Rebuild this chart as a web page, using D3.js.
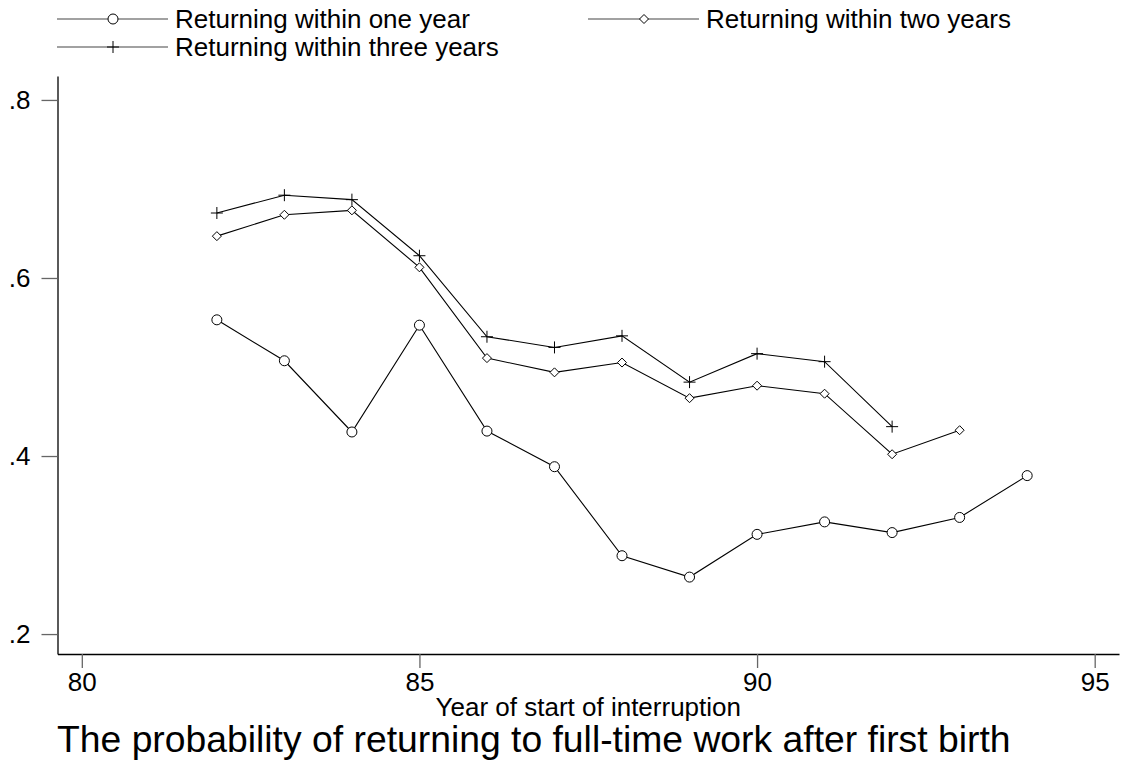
<!DOCTYPE html>
<html>
<head>
<meta charset="utf-8">
<script src="https://cdn.jsdelivr.net/npm/d3@7"></script>
<style>
body{margin:0;background:#fff;}
text{font-family:"Liberation Sans",Arial,sans-serif;fill:#000;}
</style>
</head>
<body>
<svg width="1127" height="764"></svg>
<script>
// data
var years1 = [82,83,84,85,86,87,88,89,90,91,92,93,94];
var oneYear = [0.553,0.507,0.427,0.547,0.428,0.388,0.288,0.264,0.312,0.326,0.314,0.331,0.378];
var years2 = [82,83,84,85,86,87,88,89,90,91,92,93];
var twoYears = [0.647,0.671,0.676,0.612,0.510,0.494,0.505,0.465,0.479,0.470,0.402,0.429];
var years3 = [82,83,84,85,86,87,88,89,90,91,92];
var threeYears = [0.673,0.693,0.688,0.625,0.534,0.522,0.535,0.483,0.515,0.506,0.433];
var seriesNames = ['Returning within one year','Returning within two years','Returning within three years'];
var xTicks = [80,85,90,95];
var yTicks = [0.2,0.4,0.6,0.8];
var xTitle = 'Year of start of interruption';
var chartTitle = 'The probability of returning to full-time work after first birth';

var svg = d3.select('svg');
var plotLeft = 57.5, plotRight = 1119, plotTop = 76, plotBottom = 654;

var xscale = d3.scaleLinear().domain([79.64,95.36]).range([plotLeft,plotRight]);
var yscale = d3.scaleLinear().domain([0.1776,0.8269]).range([plotBottom,plotTop]);

// marker shapes
var circleSym = {draw:function(c,s){ c.moveTo(5,0); c.arc(0,0,5,0,2*Math.PI); }};
var diamondSym = {draw:function(c,s){ c.moveTo(0,-4.5); c.lineTo(4.5,0); c.lineTo(0,4.5); c.lineTo(-4.5,0); c.closePath(); }};
var plusSym = {draw:function(c,s){ c.moveTo(-6,0); c.lineTo(6,0); c.moveTo(0,-6); c.lineTo(0,6); }};

var series = [
	{name:seriesNames[0], data:years1.map((y,i)=>({x:y,v:oneYear[i]})), sym:circleSym},
	{name:seriesNames[1], data:years2.map((y,i)=>({x:y,v:twoYears[i]})), sym:diamondSym},
	{name:seriesNames[2], data:years3.map((y,i)=>({x:y,v:threeYears[i]})), sym:plusSym}
];

// axes
var yaxis = svg.append('g').attr('transform',`translate(${plotLeft},0)`)
	.call(d3.axisLeft(yscale).tickValues(yTicks).tickSize(16).tickSizeOuter(0).tickPadding(11)
		.tickFormat(d => d3.format('.1f')(d).replace(/^0/,'')));
var xaxis = svg.append('g').attr('transform',`translate(0,${plotBottom})`)
	.call(d3.axisBottom(xscale).tickValues(xTicks).tickSize(14).tickSizeOuter(0).tickPadding(5));
[yaxis,xaxis].forEach(a => {
	a.select('.domain').attr('stroke','#000').attr('stroke-width',1.3);
	a.selectAll('.tick line').attr('stroke','#666').attr('stroke-width',1.3);
	a.selectAll('.tick text').attr('font-size',26).attr('font-family','"Liberation Sans",Arial,sans-serif').attr('fill','#000');
});

// lines and markers
var line = d3.line().x(d => xscale(d.x)).y(d => yscale(d.v));
series.forEach(s => {
	svg.append('path').datum(s.data).attr('d',line)
		.attr('fill','none').attr('stroke','#000').attr('stroke-width',1.1);
	svg.append('g').selectAll('path').data(s.data).enter().append('path')
		.attr('transform',d => `translate(${xscale(d.x)},${yscale(d.v)})`)
		.attr('d',d3.symbol().type(s.sym))
		.attr('fill','#fff').attr('stroke','#000').attr('stroke-width',1);
});

// legend
var legendPos = [{x:57,y:19},{x:588,y:19},{x:57,y:47}];
series.forEach((s,i) => {
	var p = legendPos[i];
	var lg = svg.append('g').attr('transform',`translate(${p.x},${p.y})`);
	lg.append('line').attr('x1',0).attr('x2',111).attr('y1',0).attr('y2',0)
		.attr('stroke','#444').attr('stroke-width',1.2);
	lg.append('path').attr('transform','translate(56,0)').attr('d',d3.symbol().type(s.sym))
		.attr('fill','#fff').attr('stroke','#000').attr('stroke-width',1);
	lg.append('text').attr('x',118).attr('y',9).attr('font-size',26).text(s.name);
});

// titles
svg.append('text').attr('x',(plotLeft+plotRight)/2).attr('y',716).attr('text-anchor','middle')
	.attr('font-size',26).text(xTitle);
svg.append('text').attr('x',57).attr('y',752).attr('font-size',37.3).text(chartTitle);
</script>
</body>
</html>
